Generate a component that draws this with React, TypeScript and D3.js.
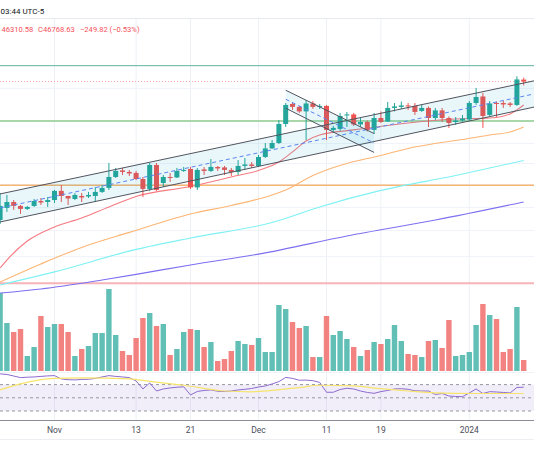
import React, { useRef, useEffect } from 'react';
import {
  select,
  scaleTime,
  scaleLog,
  scaleLinear,
  line,
  curveMonotoneX,
  curveLinear,
  timeDay,
  max,
} from 'd3';

// BTCUSD daily, Oct 24 2023 .. Jan 9 2024
const firstDay = new Date(2023, 9, 24);
const lastDay = new Date(2024, 0, 9);

const opens = [
  32848, 33879, 34395, 34051, 33793, 34051, 34481, 34395, 34567, 35381,
  34928, 34658, 34928, 34883, 34928, 35290, 35652, 36661, 37280, 37137,
  37042, 36471, 35561, 37804, 36104, 36661, 36614, 37232, 37423, 35697,
  37375, 37232, 37613, 37566, 37327, 37137, 37708, 37851, 37708, 38580,
  39432, 39984, 41971, 44169, 43836, 43337, 44225, 43836, 43947, 41339,
  41444, 42893, 43004, 41918, 42182, 41339, 42615, 42235, 43725, 43836,
  44003, 43947, 43392, 43725, 42615, 43448, 42615, 42182, 42340, 42449,
  44280, 45021, 42948, 44280, 44280, 44225, 44058, 47001,
];
const highs = [
  35200, 35019, 34567, 34137, 34051, 34658, 34748, 34838, 35471, 35923,
  34940, 35200, 35200, 35290, 35742, 35923, 37994, 37518, 37518, 37327,
  37232, 36661, 37994, 37994, 36852, 37042, 37518, 37613, 37613, 37518,
  37613, 38380, 37708, 37708, 37518, 38280, 38480, 38089, 38781, 39984,
  40285, 42393, 44280, 44391, 43947, 44613, 44502, 44169, 44058, 41761,
  43170, 43281, 43170, 42615, 42340, 43170, 43337, 44391, 44280, 44447,
  44280, 44280, 44058, 43892, 43725, 43725, 42782, 42726, 42948, 44502,
  46011, 45428, 44502, 44447, 44558, 44391, 47409, 47234,
];
const lows = [
  32521, 33535, 33707, 33363, 33707, 33965, 34137, 33965, 34309, 34395,
  34137, 34567, 34395, 34748, 34395, 35200, 35471, 36566, 36852, 36757,
  36375, 34838, 35381, 35381, 35742, 36194, 36566, 37137, 35561, 35471,
  36852, 37137, 37232, 36852, 36757, 36852, 37327, 37518, 37613, 38480,
  39382, 39884, 41655, 43503, 43170, 40285, 43614, 43614, 40285, 41023,
  41234, 41655, 41761, 41655, 41181, 40917, 42077, 42182, 43337, 43614,
  43503, 42948, 43281, 41655, 42393, 42182, 41550, 41866, 42235, 42288,
  44058, 41550, 42837, 42726, 43725, 43836, 43947, 46310.58,
];
const closes = [
  34051, 34395, 34051, 33793, 33965, 34481, 34352, 34567, 35381, 34928,
  34703, 35019, 34793, 35019, 35290, 35652, 36661, 37232, 37137, 36994,
  36471, 35561, 37804, 35471, 36661, 36566, 37232, 37327, 35697, 37327,
  37232, 37613, 37470, 37327, 37137, 37708, 37851, 37708, 38580, 39432,
  39984, 41971, 44058, 43836, 43337, 44225, 43836, 43947, 41339, 41550,
  42837, 43004, 41918, 42182, 41339, 42615, 42182, 43725, 43892, 44003,
  43892, 43281, 43725, 42615, 43448, 42615, 42077, 42340, 42560, 44280,
  44962, 42837, 44225, 44191, 44114, 44058, 47018.45, 46768.63,
];
// volume, thousands of BTC
const volumes = [
  78, 48, 39, 42, 15, 24, 55, 44, 47, 47, 39, 15, 22, 25, 38, 38, 82, 36,
  20, 16, 33, 53, 58, 45, 47, 16, 22, 39, 42, 41, 24, 29, 10, 12, 20, 30,
  27, 26, 33, 19, 19, 66, 62, 49, 43, 45, 14, 14, 55, 36, 40, 32, 24, 15,
  21, 29, 27, 32, 46, 30, 17, 16, 14, 30, 31, 23, 51, 15, 16, 19, 46, 67,
  56, 52, 19, 22, 64, 11,
];
const rsi = [
  86.2, 85.4, 83, 80.6, 81.2, 81.6, 82.4, 83.2, 83.6, 78.6, 77.4, 77.1,
  77.8, 78.1, 79.4, 81.6, 83.6, 82.4, 81.6, 80.6, 75.5, 63.4, 72.5, 60.3,
  63.4, 64.9, 66, 66.7, 54.3, 59.6, 61.1, 61.9, 59.9, 59.6, 60.3, 61.9,
  62.9, 64.1, 66.4, 67.9, 71, 74.5, 80.9, 79.4, 76.6, 76.8, 76, 73.3, 58.4,
  58.4, 62.6, 64.4, 63.4, 60.3, 58.1, 56.8, 59.4, 61.1, 63.4, 63.8, 62.9,
  60.6, 60.3, 60.3, 55, 56.5, 52.7, 52, 51.7, 57.3, 63.4, 56.5, 59.3, 58.8,
  58.1, 57.3, 65.7, 66,
];
// [day index, value]
const rsiMa: [number, number][] = [
  [0, 61.9], [3, 71], [8, 79.4], [12, 80.1], [19, 78.6], [22, 74.8],
  [27, 69], [33, 60.3], [37, 59.1], [40, 61.3], [44, 65.4], [47, 69],
  [52, 68], [56, 63.8], [60, 60.3], [64, 57.6], [70, 56.5], [77, 56.5],
];
const ema20: [number, number][] = [
  [0, 29072], [1, 29662], [4, 31136], [8, 32276], [12, 33019], [16, 33965],
  [20, 34883], [28, 35787], [34, 36661], [38, 37280], [41, 38089],
  [43, 39081], [45, 40185], [47, 40812], [52, 41339], [60, 42077],
  [67, 42504], [72, 42615], [75, 43059], [76, 43503], [77, 44058],
];
const ema50: [number, number][] = [
  [0, 28045], [6, 29367], [12, 30632], [19, 31827], [28, 33363],
  [34, 34094], [40, 35019], [42, 35471], [46, 36803], [48, 37327],
  [51, 37946], [56, 38730], [60, 39432], [64, 39934], [68, 40338],
  [72, 40812], [75, 41128], [77, 41655],
];
const ema100: [number, number][] = [
  [0, 27832], [8, 28777], [20, 30477], [28, 31377], [40, 32644],
  [47, 33965], [56, 35426], [67, 36803], [77, 38232],
];
const ema200: [number, number][] = [
  [0, 27264], [6, 27548], [15, 28187], [20, 28593], [28, 29293],
  [39, 30205], [51, 31541], [64, 32848], [77, 34395],
];

// parallel channels, anchors as [day index, price]
const channelTop: [number, number][] = [[0, 35109], [77, 46593]];
const channelBottom: [number, number][] = [[0, 32685], [77, 43570]];
const fallTop: [number, number][] = [[42, 45743], [55, 40960]];
const fallBottom: [number, number][] = [[42, 43692], [55, 39031]];

const levelPrices = [48700, 42300, 35900, 27950];
const lastPrice = 46768.63;
const priceGrid = [28000, 30000, 32000, 34000, 36000, 38000, 40000, 46000];

const tickDates = [
  new Date(2023, 10, 1),
  new Date(2023, 10, 13),
  new Date(2023, 10, 21),
  new Date(2023, 11, 1),
  new Date(2023, 11, 11),
  new Date(2023, 11, 19),
  new Date(2024, 0, 1),
];
const tickLabels = ['Nov', '13', '21', 'Dec', '11', '19', '2024'];

const W = 534;
const H = 462;
const headerY = 18;
const priceBottom = 372;
const rsiTop = 373;
const axisY = 420;
const font = "Roboto, 'Noto Sans', sans-serif";
const up = '#26a69a';
const down = '#ef5350';
const levelStyles = [
  { color: '#5fb3a3', width: 1 },
  { color: '#a8d8aa', width: 2 },
  { color: '#f7b673', width: 1.5 },
  { color: '#f7b3b8', width: 2 },
];

export default function App() {
  const svgRef = useRef<SVGSVGElement>(null);

  useEffect(() => {
    const svg = select(svgRef.current);
    svg.selectAll('*').remove();

    const days = timeDay.range(firstDay, timeDay.offset(lastDay, 1));
    const x = scaleTime().domain([firstDay, lastDay]).range([0.1, 523.7]);
    const xi = (i: number) => x(days[i]);
    const y = scaleLog().domain([22290, 55000]).range([priceBottom, headerY]);
    const yVol = scaleLinear()
      .domain([0, max(volumes) as number])
      .range([371, 289]);
    const yRsi = scaleLinear().domain([30, 70]).range([411, 384.6]);

    const defs = svg.append('defs');
    defs
      .append('clipPath')
      .attr('id', 'price-clip')
      .append('rect')
      .attr('x', 0)
      .attr('y', headerY)
      .attr('width', W)
      .attr('height', priceBottom - headerY);
    defs
      .append('clipPath')
      .attr('id', 'rsi-clip')
      .append('rect')
      .attr('x', 0)
      .attr('y', rsiTop)
      .attr('width', W)
      .attr('height', axisY - rsiTop);

    svg.append('rect').attr('width', W).attr('height', H).attr('fill', '#fff');

    // grid
    const grid = svg.append('g');
    grid
      .selectAll('line.v')
      .data(tickDates)
      .join('line')
      .attr('x1', d => x(d))
      .attr('x2', d => x(d))
      .attr('y1', headerY)
      .attr('y2', axisY)
      .attr('stroke', '#edf1f7');
    grid
      .selectAll('line.h')
      .data(priceGrid)
      .join('line')
      .attr('x1', 0)
      .attr('x2', W)
      .attr('y1', d => Math.round(y(d)) + 0.5)
      .attr('y2', d => Math.round(y(d)) + 0.5)
      .attr('stroke', '#f0f3fa');
    grid
      .append('line')
      .attr('x1', 0)
      .attr('x2', W)
      .attr('y1', headerY + 0.5)
      .attr('y2', headerY + 0.5)
      .attr('stroke', '#e6e9ef');
    grid
      .append('line')
      .attr('x1', 0)
      .attr('x2', W)
      .attr('y1', rsiTop - 0.5)
      .attr('y2', rsiTop - 0.5)
      .attr('stroke', '#eef1f6');

    const pane = svg.append('g').attr('clip-path', 'url(#price-clip)');

    // volume overlay
    pane
      .append('g')
      .selectAll('rect')
      .data(volumes)
      .join('rect')
      .attr('x', (d, i) => xi(i) - 2.7)
      .attr('width', 5.4)
      .attr('y', d => yVol(d))
      .attr('height', d => yVol(0) - yVol(d))
      .attr('fill', (d, i) => (closes[i] >= opens[i] ? up : down))
      .attr('opacity', 0.72);

    // horizontal levels
    pane
      .append('g')
      .selectAll('line')
      .data(levelPrices)
      .join('line')
      .attr('x1', 0)
      .attr('x2', W)
      .attr('y1', d => y(d))
      .attr('y2', d => y(d))
      .attr('stroke', (d, i) => levelStyles[i].color)
      .attr('stroke-width', (d, i) => levelStyles[i].width);
    pane
      .append('line')
      .attr('x1', 0)
      .attr('x2', W)
      .attr('y1', y(lastPrice))
      .attr('y2', y(lastPrice))
      .attr('stroke', '#f4a3a8')
      .attr('stroke-dasharray', '1 2');

    // moving averages
    const maLine = line<[number, number]>()
      .x(d => xi(d[0]))
      .y(d => y(d[1]))
      .curve(curveMonotoneX);
    const mas: [[number, number][], string][] = [
      [ema200, '#7d6ff0'],
      [ema100, '#7ff1f4'],
      [ema50, '#fdb574'],
      [ema20, '#f57a80'],
    ];
    pane
      .append('g')
      .selectAll('path')
      .data(mas)
      .join('path')
      .attr('d', d => maLine(d[0]))
      .attr('fill', 'none')
      .attr('stroke', d => d[1])
      .attr('stroke-width', 1.1);

    // drawings: rising channel and the falling one inside it
    const pt = (d: [number, number]) => [xi(d[0]), y(d[1])];
    const extend = (a: [number, number][]) => {
      const [x1, y1] = pt(a[0]);
      const [x2, y2] = pt(a[1]);
      const m = (y2 - y1) / (x2 - x1);
      return [
        [0, y1 - m * x1],
        [W, y1 + m * (W - x1)],
      ];
    };
    const seg = (a: [number, number][]) => [pt(a[0]), pt(a[1])];
    const mid = (a: number[][], b: number[][]) =>
      a.map((p, k) => [p[0], (p[1] + b[k][1]) / 2]);
    const straight = line().curve(curveLinear);

    const drawChannel = (top: number[][], bottom: number[][]) => {
      const g = pane.append('g');
      g.append('path')
        .attr('d', straight([top[0], top[1], bottom[1], bottom[0]] as any) + 'Z')
        .attr('fill', 'rgba(0,160,200,0.085)');
      g.append('path')
        .attr('d', straight(mid(top, bottom) as any))
        .attr('fill', 'none')
        .attr('stroke', '#5b84f2')
        .attr('stroke-dasharray', '4 3');
      [top, bottom].forEach(l =>
        g
          .append('path')
          .attr('d', straight(l as any))
          .attr('fill', 'none')
          .attr('stroke', '#51545f'),
      );
    };

    // candles
    const candles = pane.append('g');
    days.forEach((day, i) => {
      const cx = xi(i);
      const color = closes[i] >= opens[i] ? up : down;
      candles
        .append('rect')
        .attr('x', cx - 0.5)
        .attr('width', 1)
        .attr('y', y(highs[i]))
        .attr('height', y(lows[i]) - y(highs[i]))
        .attr('fill', color);
      const top = y(Math.max(opens[i], closes[i]));
      const bot = y(Math.min(opens[i], closes[i]));
      candles
        .append('rect')
        .attr('x', cx - 2.5)
        .attr('width', 5)
        .attr('y', top)
        .attr('height', Math.max(1, bot - top))
        .attr('fill', color);
    });

    drawChannel(extend(channelTop), extend(channelBottom));
    drawChannel(seg(fallTop), seg(fallBottom));

    // RSI pane
    const rsiPane = svg.append('g').attr('clip-path', 'url(#rsi-clip)');
    rsiPane
      .append('rect')
      .attr('x', 0)
      .attr('width', W)
      .attr('y', yRsi(70))
      .attr('height', yRsi(30) - yRsi(70))
      .attr('fill', 'rgba(126,87,194,0.1)');
    rsiPane
      .selectAll('line')
      .data([70, 50, 30])
      .join('line')
      .attr('x1', 0)
      .attr('x2', W)
      .attr('y1', d => yRsi(d))
      .attr('y2', d => yRsi(d))
      .attr('stroke', '#9598a1')
      .attr('stroke-dasharray', '3 3');
    rsiPane
      .append('path')
      .attr(
        'd',
        line<number>()
          .x((d, i) => xi(i))
          .y(d => yRsi(d))(rsi),
      )
      .attr('fill', 'none')
      .attr('stroke', '#8c6bd0')
      .attr('stroke-width', 1);
    rsiPane
      .append('path')
      .attr(
        'd',
        line<[number, number]>()
          .x(d => xi(d[0]))
          .y(d => yRsi(d[1]))
          .curve(curveMonotoneX)(rsiMa),
      )
      .attr('fill', 'none')
      .attr('stroke', '#f6e46a')
      .attr('stroke-width', 1.2);

    // time axis
    const axis = svg.append('g');
    axis
      .append('line')
      .attr('x1', 0)
      .attr('x2', W)
      .attr('y1', axisY + 0.5)
      .attr('y2', axisY + 0.5)
      .attr('stroke', '#8a8d96');
    axis
      .append('line')
      .attr('x1', 0)
      .attr('x2', W)
      .attr('y1', 439.5)
      .attr('y2', 439.5)
      .attr('stroke', '#eceef2');
    axis
      .selectAll('text')
      .data(tickDates)
      .join('text')
      .attr('x', d => x(d))
      .attr('y', 433)
      .attr('text-anchor', 'middle')
      .attr('font-family', font)
      .attr('font-size', 8.5)
      .attr('fill', '#4a4d57')
      .text((d, i) => tickLabels[i]);

    // header and legend
    svg
      .append('text')
      .attr('x', 0.5)
      .attr('y', 13.5)
      .attr('font-family', font)
      .attr('font-size', 8)
      .attr('fill', '#131722')
      .text('03:44 UTC-5');
    const legend = svg
      .append('g')
      .attr('font-family', font)
      .attr('font-size', 7.6)
      .attr('fill', '#f4525c');
    legend.append('text').attr('x', 1.5).attr('y', 32).text('46310.58');
    legend.append('text').attr('x', 38).attr('y', 32).text('C46768.63');
    legend
      .append('text')
      .attr('x', 80)
      .attr('y', 32)
      .text('\u2212249.82 (\u22120.53%)');
  }, []);

  return (
    <svg
      ref={svgRef}
      width={W}
      height={H}
      style={{ position: 'absolute', left: 0, top: 0 }}
    />
  );
}
